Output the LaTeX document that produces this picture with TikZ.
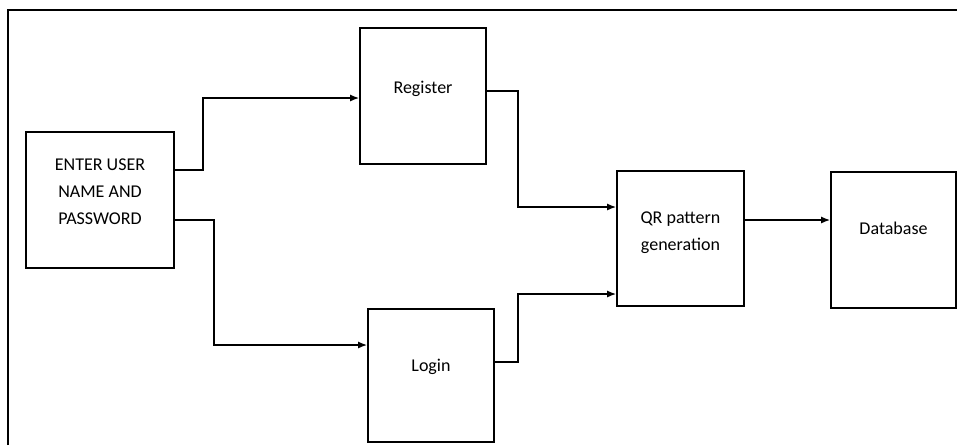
\documentclass[tikz,border=0pt]{standalone}
\usepackage{fontspec}
\setmainfont{Carlito}
\usetikzlibrary{positioning,arrows.meta}

\begin{document}
\begin{tikzpicture}[x=1pt, y=-1pt,
  block/.style={draw, line width=1.6pt, inner sep=0pt, align=center,
    font=\fontsize{18}{27}\selectfont, text height=13pt},
  flow/.style={line width=1.6pt, -{Latex[length=9pt,width=7pt]}},
  frame/.style={line width=2.4pt}]
\useasboundingbox (0,0) rectangle (957,445);
\draw[frame] (8,445) -- (8,10) -- (957,10);

\node[block, minimum width=148pt, minimum height=136pt, text height=67pt, text depth=17.4pt] (enter) at (100,200) {ENTER USER\\NAME AND\\PASSWORD};
\node[block, minimum width=126pt, minimum height=136pt, text depth=19pt] (register) at (423,96) {Register};
\node[block, minimum width=126pt, minimum height=133pt, text depth=21pt] (login) at (431,375.5) {Login};
\node[block, minimum width=127pt, minimum height=135pt, text height=40pt, text depth=15.4pt] (qr) at (680.5,238.5) {QR pattern\\generation};
\node[block, minimum width=125pt, minimum height=136pt, text depth=25pt] (database) at (893.5,240) {Database};

% enter -> register / login
\draw[flow] ([yshift=30pt]enter.east) -- ++(28,0) |- ([yshift=-2pt]register.west);
\draw[flow] ([yshift=-20pt]enter.east) -- ++(39,0) |- ([yshift=30.5pt]login.west);
% into the QR box
\draw[flow] ([yshift=5pt]register.east) -- ++(31,0) |- ([yshift=31.5pt]qr.west);
\draw[flow] ([yshift=13.5pt]login.east) -- ++(23,0) |- ([yshift=-55.5pt]qr.west);
\draw[flow] ([yshift=18.5pt]qr.east) -- ([yshift=18.5pt]qr.east -| database.west);
\end{tikzpicture}
\end{document}
